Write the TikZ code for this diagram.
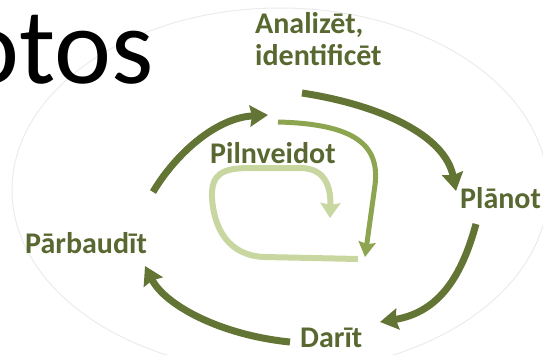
\documentclass[tikz,border=0pt]{standalone}
\usepackage{fontspec}
\setmainfont{Carlito}
\usepackage{xcolor}
\usepackage{tikz}
\usetikzlibrary{arrows.meta}

\definecolor{tumszals}{RGB}{99,117,52}
\definecolor{teksts}{RGB}{88,104,48}
\definecolor{vidzals}{RGB}{141,165,80}
\definecolor{gaiszals}{RGB}{200,214,160}

\begin{document}
\begin{tikzpicture}[x=1pt,y=-1pt,
		uzraksts/.style={font=\fontsize{30}{32}\selectfont\bfseries,text=teksts,anchor=base west,inner sep=0pt},
		bulta/.style={draw=tumszals,line width=7pt,-{Stealth[inset=2pt,length=18pt,width=21pt]}},
		vidbulta/.style={draw=vidzals,line width=5pt,-{Stealth[inset=2pt,length=15pt,width=17pt]}},
		gaisbulta/.style={draw=gaiszals,line width=6pt,line join=round,-{Stealth[inset=2pt,length=15pt,width=20pt]}}]
			\useasboundingbox (0,0) rectangle (543,354);
			
			% fona elipse
			\draw[black!8,line width=1pt] (280,190) ellipse [x radius=268pt,y radius=182pt];
			
			% virsraksts
			\node[font=\fontsize{108}{120}\selectfont,anchor=base west,inner sep=0pt] (virsraksts) at (-38,83) {otos};
			
			% bultu galapunkti
			\coordinate (a1) at (302,93);  \coordinate (a2) at (456,191);
			\coordinate (b1) at (476,224); \coordinate (b2) at (380,322);
			\coordinate (c1) at (290,342); \coordinate (c2) at (145,266);
			\coordinate (d1) at (153,192); \coordinate (d2) at (268,115);
			\coordinate (e1) at (278,122); \coordinate (e2) at (365,257);
			\coordinate (f1) at (358,259); \coordinate (f2) at (330,218);
			
			% iekšējās bultas
			\draw[gaisbulta] (f1) -- (265,257) .. controls (228,256) and (214,228) .. (212,198)
				.. controls (211,174) and (222,168) .. (250,168) -- (300,168)
				.. controls (324,168) and (331,185) .. (f2);
			\draw[vidbulta] (e1) .. controls (355,124) and (380,145) .. (375,185) -- (e2);
			
			% cikla bultas
			\draw[bulta] (a1) .. controls (380,105) and (445,135) .. (a2);
			\draw[bulta] (b1) .. controls (462,275) and (440,312) .. (b2);
			\draw[bulta] (c1) .. controls (220,335) and (165,305) .. (c2);
			\draw[bulta] (d1) .. controls (175,155) and (215,118) .. (d2);
			
			% uzraksti
			\node[uzraksts] (analizet) at (255,33) {Analizēt,};
			\node[uzraksts] (identificet) at (255,65) {identificēt};
			\node[uzraksts] (planot) at (460,208) {Plānot};
			\node[uzraksts] (darit) at (300,347) {Darīt};
			\node[uzraksts] (parbaudit) at (25,253) {Pārbaudīt};
			\node[uzraksts] (pilnveidot) at (210,163) {Pilnveidot};
		\end{tikzpicture}
\end{document}
